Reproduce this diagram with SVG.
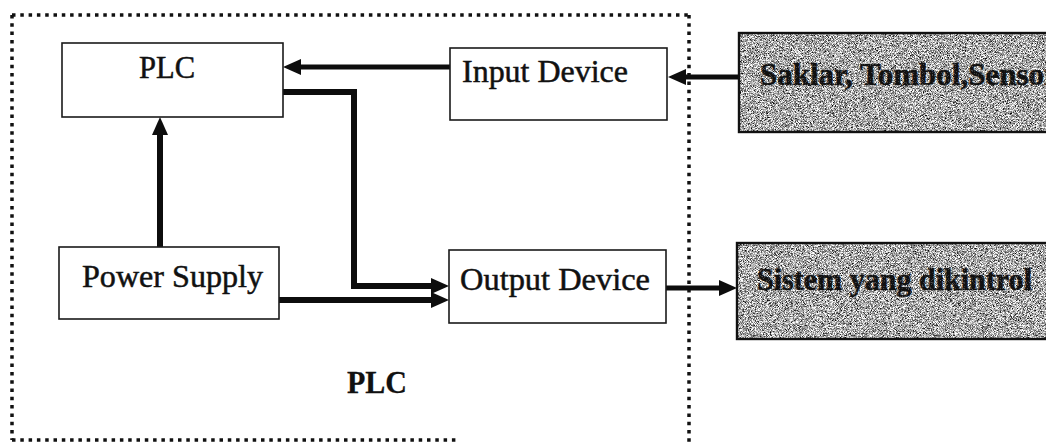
<svg xmlns="http://www.w3.org/2000/svg" width="1046" height="448" viewBox="0 0 1046 448">
  <defs>
    <style>
      .box { fill: #ffffff; stroke: #1a1a1a; stroke-width: 1.6; }
      .ext { stroke: #111111; stroke-width: 2.4; }
      .lbl { font-family: "Liberation Serif", "Times New Roman", serif; font-size: 31px; fill: #111111; stroke: #111111; stroke-width: 0.5; }
      .bold { font-weight: bold; stroke-width: 0.3; }
      .extlbl { font-family: "Liberation Serif", "Times New Roman", serif; font-size: 31px; font-weight: bold; fill: #101010; stroke: #101010; stroke-width: 0.6; }
      .wire { fill: none; stroke: #0d0d0d; stroke-width: 6; }
      .thin { stroke-width: 5; }
      .frame { fill: none; stroke: #111111; stroke-width: 3.5; stroke-dasharray: 3.5 4.8; }
    </style>
    <marker id="head" viewBox="0 0 18 16" markerWidth="18" markerHeight="16" refX="8" refY="8" orient="auto" markerUnits="userSpaceOnUse">
      <path d="M0,0 L18,8 L0,16 Z" fill="#0d0d0d"/>
    </marker>
    <!-- speckled grey fill for the external blocks -->
    <filter id="grain" x="0" y="0" width="100%" height="100%" color-interpolation-filters="sRGB">
      <feTurbulence type="fractalNoise" baseFrequency="1.4" numOctaves="2" seed="7" result="n"/>
      <feColorMatrix in="n" type="matrix" values="1 0 0 0 0  1 0 0 0 0  1 0 0 0 0  0 0 0 0 1" result="g"/>
      <feComponentTransfer in="g" result="c">
        <feFuncR type="linear" slope="2.2" intercept="-0.45"/>
        <feFuncG type="linear" slope="2.2" intercept="-0.45"/>
        <feFuncB type="linear" slope="2.2" intercept="-0.45"/>
      </feComponentTransfer>
      <feComposite in="c" in2="SourceGraphic" operator="in"/>
    </filter>
    <filter id="speck" x="0" y="0" width="100%" height="100%" color-interpolation-filters="sRGB">
      <feTurbulence type="fractalNoise" baseFrequency="1.5" numOctaves="1" seed="11" result="n"/>
      <feColorMatrix in="n" type="matrix" values="0 0 0 0 1  0 0 0 0 1  0 0 0 0 1  3 0 0 0 -1.6" result="w"/>
      <feComposite in="w" in2="SourceGraphic" operator="in"/>
    </filter>
  </defs>

  <!-- dotted enclosure of the PLC unit -->
  <g id="enclosure">
    <path class="frame" d="M12,15 H689"/>
    <path class="frame" d="M12,15 V440"/>
    <path class="frame" d="M689,15 V444"/>
    <path class="frame" d="M12,440 H457"/>
    <text class="lbl bold" x="347" y="393" textLength="60" lengthAdjust="spacingAndGlyphs">PLC</text>
  </g>

  <g id="connectors">
    <path class="wire thin" d="M450,67 H293" marker-end="url(#head)"/>
    <path class="wire thin" d="M739,77 H678" marker-end="url(#head)"/>
    <path class="wire" d="M283,92 H354 V286 H439" marker-end="url(#head)"/>
    <path class="wire" d="M279,300 H439" marker-end="url(#head)"/>
    <path class="wire" d="M160,247 V127" marker-end="url(#head)"/>
    <path class="wire thin" d="M666,288 H727" marker-end="url(#head)"/>
  </g>

  <g id="plc">
    <rect class="box" x="62" y="43" width="221" height="74"/>
    <text class="lbl" x="139" y="78" textLength="56" lengthAdjust="spacingAndGlyphs">PLC</text>
  </g>

  <g id="input-device">
    <rect class="box" x="450" y="48" width="217" height="72"/>
    <text class="lbl" x="462" y="82" textLength="166" lengthAdjust="spacingAndGlyphs">Input Device</text>
  </g>

  <g id="power-supply">
    <rect class="box" x="59" y="247" width="220" height="72"/>
    <text class="lbl" x="82" y="287" textLength="181" lengthAdjust="spacingAndGlyphs">Power Supply</text>
  </g>

  <g id="output-device">
    <rect class="box" x="449" y="250" width="217" height="73"/>
    <text class="lbl" x="460" y="290" textLength="190" lengthAdjust="spacingAndGlyphs">Output Device</text>
  </g>

  <g id="sensors">
    <rect x="739" y="33" width="320" height="99" fill="#000" filter="url(#grain)"/>
    <rect class="ext" x="739" y="33" width="320" height="99" fill="none"/>
    <text class="extlbl" x="760" y="85">Saklar, Tombol,Sensor</text>
    <rect x="741" y="35" width="318" height="95" fill="#000" filter="url(#speck)" opacity="0.45"/>
  </g>

  <g id="controlled-system">
    <rect x="737" y="243" width="320" height="96" fill="#000" filter="url(#grain)"/>
    <rect class="ext" x="737" y="243" width="320" height="96" fill="none"/>
    <text class="extlbl" x="757" y="290" textLength="275" lengthAdjust="spacingAndGlyphs">Sistem yang dikintrol</text>
    <rect x="739" y="245" width="318" height="92" fill="#000" filter="url(#speck)" opacity="0.45"/>
  </g>
</svg>
